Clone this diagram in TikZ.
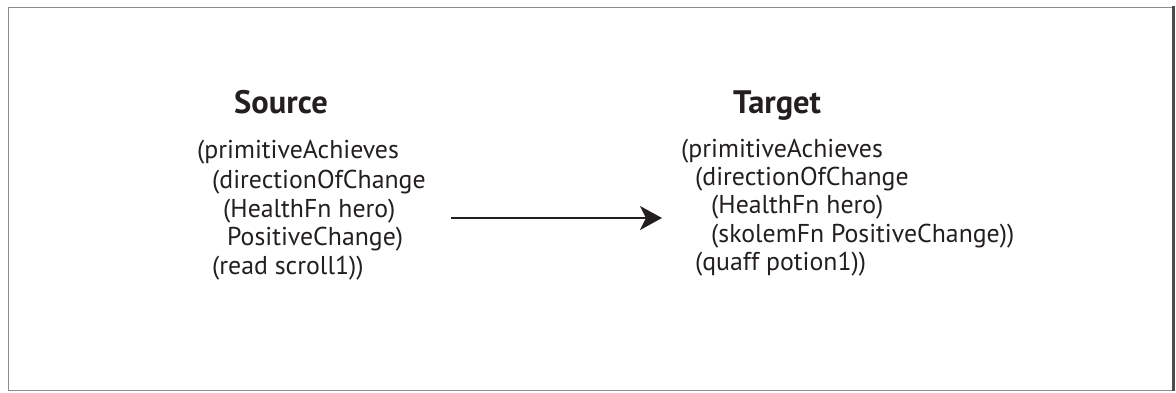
\documentclass[tikz,border=0pt]{standalone}
\usepackage{fontspec}
\setmainfont{PT Sans}
\usetikzlibrary{arrows.meta}
\definecolor{ink}{HTML}{231F20}
\tikzset{
  line/.style={anchor=base west,inner sep=0pt,font=\fontsize{25.8}{30}\selectfont,text=ink},
  title/.style={anchor=base west,inner sep=0pt,font=\fontsize{32.5}{38}\selectfont\bfseries,text=ink},
  maparrow/.style={line width=1.7pt,draw=ink,-{Stealth[length=22pt,width=24pt,inset=6pt]}}
}
\begin{document}
\begin{tikzpicture}[x=1pt,y=-1pt]
\useasboundingbox (0,0) rectangle (1176,392);
% frame
\draw[draw=black!45,line width=1pt] (8,7) rectangle (1172,390);
\draw[draw=black!70,line width=3pt] (1173,6) -- (1173,391);
% titles
\node[title] (srcT) at (234,113) {Source};
\node[title] (tgtT) at (733,113) {Target};
% source
\node[line] (s1) at (197,158) {(primitiveAchieves};
\node[line] (s2) at (212,188) {(directionOfChange};
\node[line] (s3) at (223,217) {(HealthFn hero)};
\node[line] (s4) at (227,245) {PositiveChange)};
\node[line] (s5) at (212,274) {(read scroll1))};
% target
\node[line] (t1) at (681,157) {(primitiveAchieves};
\node[line] (t2) at (695,185) {(directionOfChange};
\node[line] (t3) at (711,213) {(HealthFn hero)};
\node[line] (t4) at (711,242) {(skolemFn PositiveChange))};
\node[line] (t5) at (695,270) {(quaff potion1))};
% arrow
\coordinate (a0) at (451,218);
\coordinate (a1) at (662,218);
\draw[maparrow] (a0) -- (a1);
\end{tikzpicture}
\end{document}
